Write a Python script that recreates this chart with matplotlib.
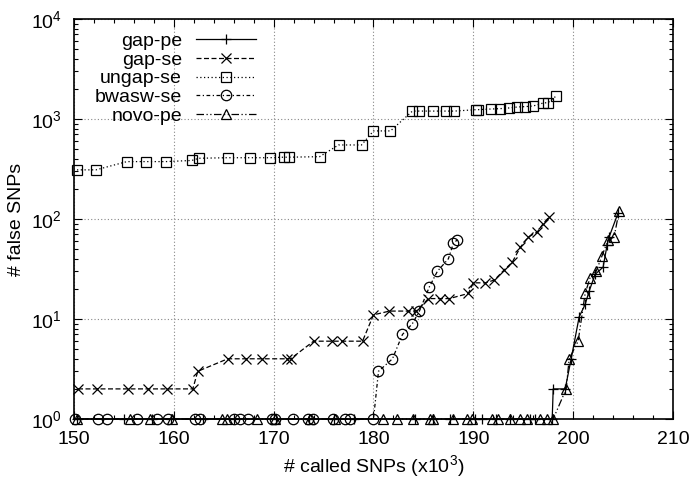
import matplotlib
matplotlib.use("Agg")
import matplotlib.pyplot as plt
from matplotlib.ticker import MultipleLocator, LogLocator, NullFormatter

plt.rcParams['font.family'] = ['Liberation Sans', 'DejaVu Sans']
plt.rcParams['mathtext.fontset'] = 'custom'
plt.rcParams['mathtext.rm'] = 'Liberation Sans'
plt.rcParams['mathtext.it'] = 'Liberation Sans'

# data (x in thousands of called SNPs)
gap_pe_x = [150.3, 155.0, 157.8, 159.7, 162.9, 166.0, 170.2, 173.5, 176.0, 178.0,
            184.2, 186.0, 187.7, 190.2, 190.9, 192.3, 193.7, 195.7, 196.2, 197.9,
            198.0, 199.2, 199.8, 200.6, 201.2, 201.6, 202.2, 203.0, 203.4, 203.6, 204.5]
gap_pe_y = [1] * 20 + [2, 2, 4, 10.5, 14, 19, 28, 33, 55, 66, 115]

gap_se_x = [150.4, 152.3, 155.4, 157.4, 159.3, 161.9, 162.4, 165.4, 167.2, 168.8,
            171.3, 171.7, 174.0, 175.8, 176.8, 178.9, 180.0, 181.6, 183.5, 184.3,
            185.5, 186.7, 187.6, 189.5, 190.0, 191.2, 192.1, 193.1, 193.9, 194.7,
            195.5, 196.4, 197.0, 197.6]
gap_se_y = [2, 2, 2, 2, 2, 2, 3, 4, 4, 4, 4, 4, 6, 6, 6, 6, 11, 12, 12, 12,
            16, 16, 16, 18, 23, 23, 24.5, 31, 37, 52, 66, 74, 90, 105]

ungap_se_x = [150.3, 152.2, 155.3, 157.2, 159.2, 161.8, 162.5, 165.4, 167.6, 169.6,
              171.0, 171.5, 174.6, 176.5, 178.8, 180.0, 181.7, 183.9, 184.6, 186.0,
              187.3, 188.1, 190.3, 190.5, 191.8, 192.7, 193.6, 194.4, 195.2, 196.0,
              197.0, 197.5, 198.3]
ungap_se_y = [310, 310, 375, 375, 375, 385, 405, 410, 410, 410, 415, 415, 420, 550,
              550, 760, 760, 1200, 1200, 1200, 1200, 1200, 1240, 1240, 1259, 1270,
              1290, 1318, 1330, 1350, 1445, 1460, 1700]

bwasw_se_x = [150.1, 152.4, 153.3, 156.3, 158.3, 159.4, 162.1, 162.6, 166.0, 166.6,
              167.4, 169.8, 170.1, 171.9, 173.4, 173.9, 175.9, 177.1, 177.6, 180.0,
              180.5, 181.9, 182.9, 183.9, 184.6, 185.6, 186.4, 187.5, 188.0, 188.4]
bwasw_se_y = [1] * 20 + [3, 4, 7, 9, 12, 21, 30, 40, 57, 62]

novo_pe_x = [150.3, 155.6, 157.6, 159.8, 164.8, 165.3, 168.3, 170.1, 173.6, 176.1,
             181.0, 182.4, 184.0, 185.7, 186.0, 188.0, 189.4, 189.9, 191.9, 192.5,
             193.7, 194.7, 195.4, 196.7, 197.4, 198.0,
             199.3, 199.6, 200.5, 201.2, 201.7, 202.3, 202.9, 203.5, 204.1, 204.6]
novo_pe_y = [1] * 26 + [2, 4, 6, 18, 26, 30, 43, 62, 66, 120]

series = [
    ("gap-pe", gap_pe_x, gap_pe_y, '+', (None, None)),
    ("gap-se", gap_se_x, gap_se_y, 'x', (4, 2)),
    ("ungap-se", ungap_se_x, ungap_se_y, 's', (1, 2)),
    ("bwasw-se", bwasw_se_x, bwasw_se_y, 'o', (3, 2, 1, 2)),
    ("novo-pe", novo_pe_x, novo_pe_y, '^', (6, 2, 1, 2, 1, 2)),
]

fig = plt.figure(figsize=(6.95, 4.84), dpi=100)
ax = fig.add_axes([74 / 695, 1 - 419 / 484, 599 / 695, 400 / 484])

for name, xs, ys, mk, dash in series:
    line, = ax.plot(xs, ys, color='black', lw=0.9, marker=mk, ms=7.5,
                    mfc='none', mec='black', mew=0.9, label=name, clip_on=False)
    if dash[0] is not None:
        line.set_dashes(dash)

ax.set_yscale('log')
ax.set_xlim(150, 210)
ax.set_ylim(1, 1e4)
ax.xaxis.set_major_locator(MultipleLocator(10))
ax.xaxis.set_minor_locator(MultipleLocator(2))
ax.yaxis.set_major_locator(LogLocator(base=10, numticks=10))
ax.yaxis.set_minor_locator(LogLocator(base=10, subs=range(2, 10), numticks=10))
ax.yaxis.set_minor_formatter(NullFormatter())

ax.tick_params(which='both', direction='in', top=True, right=True, labelsize=14)
ax.tick_params(which='major', length=6, width=0.8)
ax.tick_params(axis='x', which='major', pad=9)
ax.tick_params(axis='y', which='major', pad=9)
ax.tick_params(which='minor', length=3, width=0.8)
ax.grid(True, which='major', color='#888888', ls=(0, (1, 2)), lw=0.8)
for s in ax.spines.values():
    s.set_linewidth(1.2)

ax.set_xlabel("# called SNPs (x10$^3$)", fontsize=14, labelpad=3)
ax.set_ylabel("# false SNPs", fontsize=14, labelpad=4)

leg = ax.legend(loc='upper left', bbox_to_anchor=(0.015, 0.995), frameon=False,
                markerfirst=False, numpoints=1, handlelength=3.1,
                handletextpad=0.7, labelspacing=0.05, borderaxespad=0.2,
                fontsize=14)
for t in leg.get_texts():
    t.set_ha('right')

fig.savefig("out.png", dpi=100)
